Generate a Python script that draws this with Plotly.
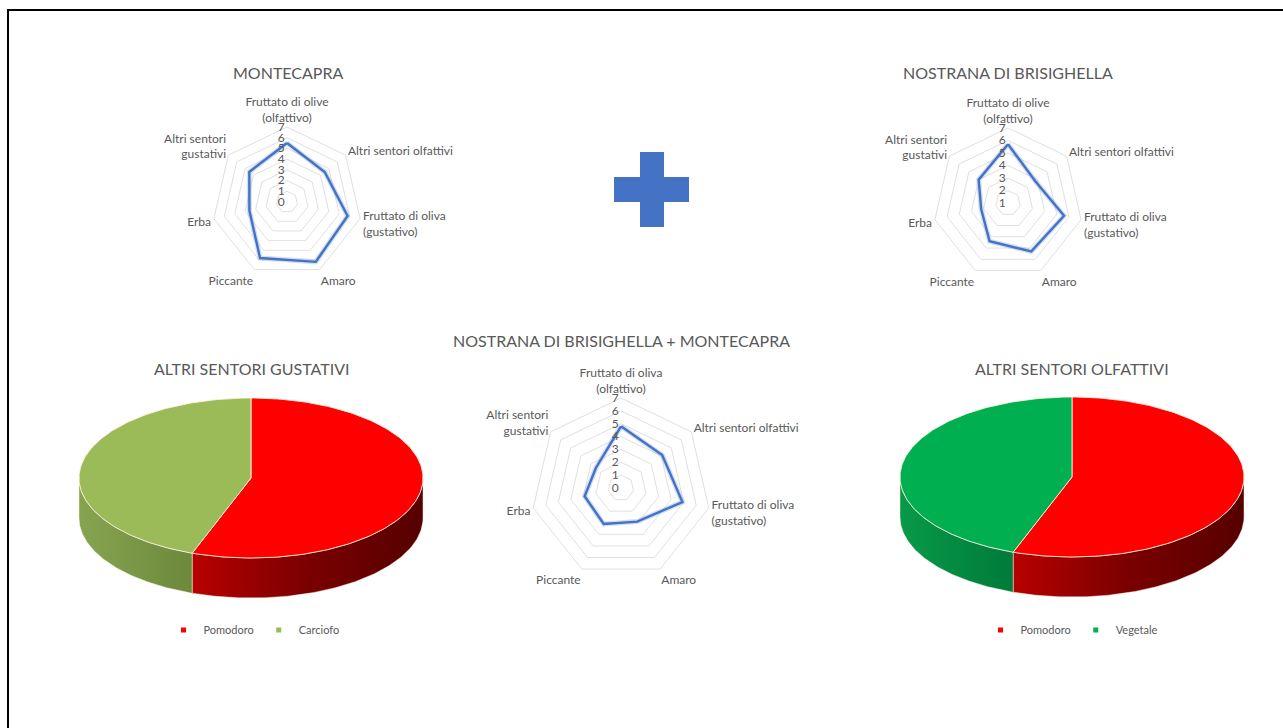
import numpy as np
import plotly.graph_objects as go

W, H = 1283, 728

# ---- data -------------------------------------------------------------
radar_axes = [
    "Fruttato di olive<br>(olfattivo)",
    "Altri sentori olfattivi",
    "Fruttato di oliva<br>(gustativo)",
    "Amaro",
    "Piccante",
    "Erba",
    "Altri sentori<br>gustativi",
]
radar_axes_mix = ["Fruttato di oliva<br>(olfattivo)"] + radar_axes[1:]

montecapra = [5.5, 4.5, 5.8, 6.2, 5.8, 3.6, 4.5]
brisighella = [5.7, 3.8, 5.6, 5.3, 4.4, 3.2, 4.0]
miscela = [4.8, 4.1, 4.9, 2.9, 3.1, 2.9, 2.5]

gustativi_labels = ["Pomodoro", "Carciofo"]
gustativi_values = [5, 4]
olfattivi_labels = ["Pomodoro", "Vegetale"]
olfattivi_values = [5, 4]

# ---- style -------------------------------------------------------------
FONT = "Lato"
TXT = "#595959"
BLUE = "#4472C4"
GRID = "#e0e0e0"

fig = go.Figure()

# invisible pixel-unit axes used for the 3D pies and the labels
fig.update_layout(
    xaxis=dict(range=[0, W], domain=[0, 1], visible=False, fixedrange=True),
    yaxis=dict(range=[H, 0], domain=[0, 1], visible=False, fixedrange=True),
)


def polar_layout(cx, cy, R, rng, tickvals):
    return dict(
        domain=dict(x=[(cx - R) / W, (cx + R) / W],
                    y=[1 - (cy + R) / H, 1 - (cy - R) / H]),
        gridshape="linear",
        bgcolor="rgba(0,0,0,0)",
        angularaxis=dict(
            direction="clockwise", rotation=90, showgrid=False,
            showline=True, linecolor=GRID, linewidth=1, ticks="",
            tickfont=dict(family=FONT, size=12, color=TXT),
        ),
        radialaxis=dict(
            range=rng, tickvals=tickvals, angle=90, tickangle=90,
            side="counterclockwise", showline=False, ticks="",
            gridcolor=GRID, gridwidth=1,
            tickfont=dict(family=FONT, size=12, color=TXT),
        ),
    )


def add_radar(values, axes, subplot):
    r = list(values) + [values[0]]
    th = list(axes) + [axes[0]]
    fig.add_trace(go.Scatterpolar(r=r, theta=th, mode="lines", subplot=subplot,
                                  line=dict(color="rgba(120,160,220,0.35)", width=5),
                                  hoverinfo="skip", showlegend=False))
    fig.add_trace(go.Scatterpolar(r=r, theta=th, mode="lines", subplot=subplot,
                                  line=dict(color=BLUE, width=2.4),
                                  showlegend=False))


add_radar(montecapra, radar_axes, "polar")
add_radar(brisighella, radar_axes, "polar2")
add_radar(miscela, radar_axes_mix, "polar3")

fig.update_layout(
    polar=polar_layout(287, 202, 75, [0, 7], list(range(0, 8))),
    polar2=polar_layout(1008, 203, 75, [1, 7], list(range(1, 8))),
    polar3=polar_layout(621, 488, 90, [0, 7], list(range(0, 8))),
)


# ---- 3D pies -----------------------------------------------------------
def add_pie3d(values, labels, top_colors, side_scales, cx, cy, rx, ry, depth, legend):
    total = float(sum(values))
    start = 0.0
    sides, tops = [], []
    for v, lab, col, sc in zip(values, labels, top_colors, side_scales):
        a0, a1 = start, start + 360.0 * v / total
        start = a1
        th = np.radians(np.linspace(a0, a1, 160))
        x = cx + rx * np.sin(th)
        y = cy - ry * np.cos(th)
        tops.append(go.Scatter(
            x=np.r_[cx, x, cx], y=np.r_[cy, y, cy], mode="lines",
            fill="toself", fillcolor=col,
            line=dict(color="rgba(255,240,225,0.85)", width=1),
            hoverinfo="skip", showlegend=False))
        lo, hi = max(a0, 90.0), min(a1, 270.0)
        if hi > lo:
            t2 = np.radians(np.linspace(lo, hi, 120))
            xs = cx + rx * np.sin(t2)
            ys = cy - ry * np.cos(t2)
            sides.append(go.Scatter(
                x=np.r_[xs, xs[::-1], xs[0]],
                y=np.r_[ys, ys[::-1] + depth, ys[0]],
                mode="lines", fill="toself", fillcolor=sc[0][1],
                fillgradient=dict(type="horizontal", colorscale=sc),
                line=dict(color="rgba(255,240,225,0.6)", width=0.8),
                hoverinfo="skip", showlegend=False))
    for t in sides + tops:
        fig.add_trace(t)
    for lab, col in zip(labels, top_colors):
        fig.add_trace(go.Scatter(
            x=[None], y=[None], mode="markers", name=lab, legend=legend,
            marker=dict(symbol="square", size=5, color=col)))


add_pie3d(gustativi_values, gustativi_labels, ["#FF0000", "#9BBB59"],
          [[[0, "#B80000"], [0.5, "#7A0000"], [1, "#560000"]],
           [[0, "#86A450"], [1, "#6C893C"]]],
          251, 478, 172, 80, 40, "legend")
add_pie3d(olfattivi_values, olfattivi_labels, ["#FF0000", "#00B050"],
          [[[0, "#B80000"], [0.5, "#7A0000"], [1, "#560000"]],
           [[0, "#079A48"], [1, "#007A3A"]]],
          1072, 477, 172, 80, 40, "legend2")

legend_common = dict(orientation="h", xanchor="center", yanchor="middle",
                     font=dict(family=FONT, size=11, color=TXT),
                     bgcolor="rgba(0,0,0,0)", itemwidth=30)
fig.update_layout(
    showlegend=True,
    legend=dict(x=254 / W, y=1 - 630 / H, **legend_common),
    legend2=dict(x=1072 / W, y=1 - 630 / H, **legend_common),
)

# ---- titles --------------------------------------------------------------
titles = [
    ("MONTECAPRA", 288, 72),
    ("NOSTRANA DI BRISIGHELLA", 1008, 72),
    ("NOSTRANA DI BRISIGHELLA + MONTECAPRA", 621, 340),
    ("ALTRI SENTORI GUSTATIVI", 251, 368),
    ("ALTRI SENTORI OLFATTIVI", 1072, 368),
]
for text, x, y in titles:
    fig.add_annotation(x=x, y=y, xref="x", yref="y", text=text, showarrow=False,
                       font=dict(family=FONT, size=16, color=TXT),
                       xanchor="center", yanchor="middle")

# ---- plus sign and frame ---------------------------------------------------
fig.add_shape(type="path", xref="x", yref="y",
              path="M 640 152 L 664 152 L 664 177 L 689 177 L 689 202 L 664 202 "
                   "L 664 227 L 640 227 L 640 202 L 614 202 L 614 177 L 640 177 Z",
              fillcolor=BLUE, line=dict(width=0))
fig.add_shape(type="rect", xref="x", yref="y", x0=8, y0=10, x1=W + 10, y1=H + 10,
              line=dict(color="black", width=2), fillcolor="rgba(0,0,0,0)")

fig.update_layout(
    width=W, height=H, margin=dict(l=0, r=0, t=0, b=0),
    paper_bgcolor="white", plot_bgcolor="rgba(0,0,0,0)",
    font=dict(family=FONT, color=TXT),
)

fig.write_html("out.html")
